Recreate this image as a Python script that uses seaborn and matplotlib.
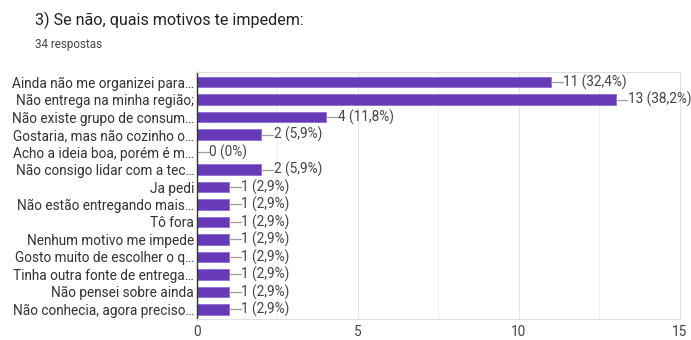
import matplotlib
matplotlib.use("Agg")
import matplotlib.pyplot as plt
import seaborn as sns
import pandas as pd

categories = [
    "Ainda não me organizei para…",
    "Não entrega na minha região;",
    "Não existe grupo de consum…",
    "Gostaria, mas não cozinho o…",
    "Acho a ideia boa, porém é m…",
    "Não consigo lidar com a tec…",
    "Ja pedi",
    "Não estão entregando mais…",
    "Tô fora",
    "Nenhum motivo me impede",
    "Gosto muito de escolher o q…",
    "Tinha outra fonte de entrega…",
    "Não pensei sobre ainda",
    "Não conhecia, agora preciso…",
]
counts = [11, 13, 4, 2, 0, 2, 1, 1, 1, 1, 1, 1, 1, 1]
pct_labels = ["32,4%", "38,2%", "11,8%", "5,9%", "0%", "5,9%", "2,9%",
              "2,9%", "2,9%", "2,9%", "2,9%", "2,9%", "2,9%", "2,9%"]
xticks = [0, 5, 10, 15]

sns.set_theme(style="white")
plt.rcParams['font.family'] = ['Roboto', 'DejaVu Sans']

df = pd.DataFrame({"cat": categories, "n": counts})

fig = plt.figure(figsize=(6.91, 3.40), dpi=100)
ax = fig.add_axes([0.285, 0.062, 0.699, 0.726])

sns.barplot(data=df, y="cat", x="n", orient="h", color="#673ab7",
            saturation=1, width=0.6, ax=ax, edgecolor="#8e6fd0", linewidth=0.6)

ax.set_xlim(0, 15)
ax.set_ylim(13.55, -0.58)
ax.set_xticks(xticks)
ax.set_xticks([2.5, 7.5, 12.5], minor=True)
ax.grid(True, axis="x", which="major", color="#e6e6e6", linewidth=0.8)
ax.grid(True, axis="x", which="minor", color="#f0f0f0", linewidth=0.8)
ax.set_axisbelow(True)
ax.set_xlabel("")
ax.set_ylabel("")

for s in ["top", "right", "bottom"]:
    ax.spines[s].set_color("#e0e0e0")
    ax.spines[s].set_linewidth(0.8)
ax.spines["left"].set_color("#333333")
ax.spines["left"].set_linewidth(1.0)

ax.tick_params(axis="y", length=0, pad=2, labelsize=9.8, labelcolor="#333333")
ax.tick_params(axis="x", length=0, pad=4.5, labelsize=9.8, labelcolor="#444444")

for i, (v, p) in enumerate(zip(counts, pct_labels)):
    ax.plot([v, v + 0.36], [i, i], color="#9e9e9e", linewidth=0.9, clip_on=False)
    ax.text(v + 0.38, i, f"{v} ({p})", va="center", ha="left",
            fontsize=9.8, color="#444444", clip_on=False)

fig.text(0.051, 0.94, "3) Se não, quais motivos te impedem:", fontsize=11.6,
         color="#222222", va="center")
fig.text(0.051, 0.87, "34 respostas", fontsize=8.4, color="#444444", va="center")

fig.savefig("out.png", dpi=100, facecolor="white")
